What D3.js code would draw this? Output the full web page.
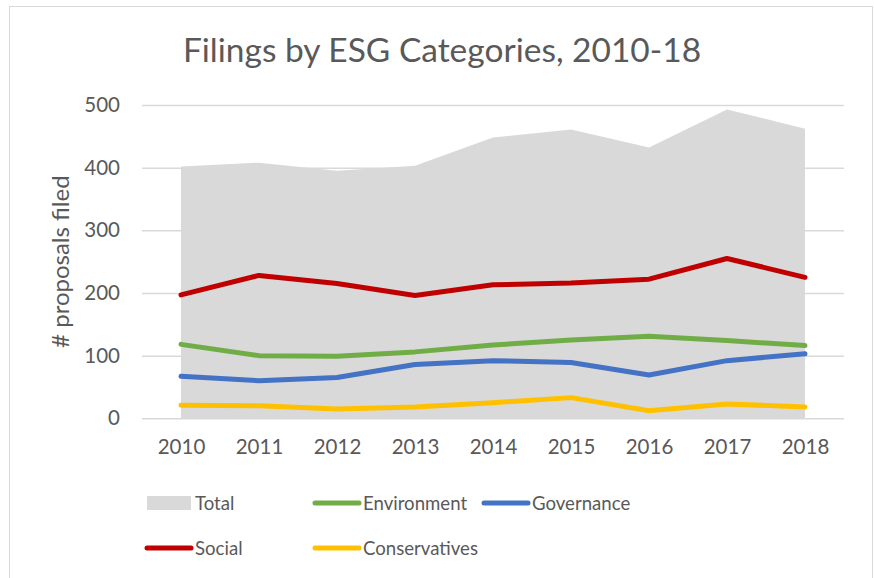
<!DOCTYPE html>
<html>
<head>
<meta charset="utf-8">
<script src="https://cdn.jsdelivr.net/npm/d3@7"></script>
<style>
  html, body { margin: 0; padding: 0; background: #fff; }
  svg { display: block; }
  text { font-family: Lato, "Open Sans", sans-serif; fill: #595959; }
</style>
</head>
<body>
<svg id="chart" width="874" height="578"></svg>
<script>
// Shareholder proposal filings by ESG category
const years = ["2010", "2011", "2012", "2013", "2014", "2015", "2016", "2017", "2018"];
const total = [402, 408, 395, 403, 448, 461, 432, 493, 462];
const social = [197, 228, 215, 196, 213, 216, 222, 255, 225];
const environment = [118, 100, 99, 106, 117, 125, 131, 124, 116];
const governance = [67, 60, 65, 86, 92, 89, 69, 92, 103];
const conservatives = [21, 20, 15, 18, 25, 33, 12, 23, 18];
const yTicks = [0, 100, 200, 300, 400, 500];

const lineSeries = [
  { name: "Social", values: social, color: "#c00000" },
  { name: "Environment", values: environment, color: "#70ad47" },
  { name: "Governance", values: governance, color: "#4472c4" },
  { name: "Conservatives", values: conservatives, color: "#ffc000" }
];

const svg = d3.select("#chart");

// outer chart frame
svg.append("rect")
  .attr("x", 9.5).attr("y", 6.5)
  .attr("width", 863).attr("height", 580)
  .attr("fill", "#fff")
  .attr("stroke", "#d9d9d9").attr("stroke-width", 1);

const plot = { left: 142, right: 844, top: 105, bottom: 418.3 };

const x = d3.scalePoint().domain(years).range([plot.left, plot.right]).padding(0.5);
const y = d3.scaleLinear().domain([0, 500]).range([plot.bottom, plot.top]);

// title
svg.append("text")
  .attr("x", 442).attr("y", 62)
  .attr("text-anchor", "middle")
  .style("font-size", "33.5px")
  .text("Filings by ESG Categories, 2010-18");

// horizontal gridlines
const yAxis = d3.axisLeft(y).tickValues(yTicks).tickSize(-(plot.right - plot.left)).tickPadding(22);
const gy = svg.append("g").attr("transform", `translate(${plot.left},0)`).call(yAxis);
gy.select(".domain").remove();
gy.selectAll(".tick line").attr("stroke", "#d9d9d9").attr("stroke-width", 1.5);
gy.selectAll(".tick text")
  .attr("fill", "#595959")
  .style("font-size", "20.5px")
  .style("font-family", "Lato, 'Open Sans', sans-serif");

// total area behind the lines
const area = d3.area()
  .x((d, i) => x(years[i]))
  .y0(y(0))
  .y1(d => y(d));
svg.append("path")
  .datum(total)
  .attr("d", area)
  .attr("fill", "#d9d9d9");

// category lines
const line = d3.line()
  .x((d, i) => x(years[i]))
  .y(d => y(d));
svg.selectAll("path.series")
  .data(lineSeries)
  .join("path")
  .attr("class", "series")
  .attr("d", d => line(d.values))
  .attr("fill", "none")
  .attr("stroke", d => d.color)
  .attr("stroke-width", 5)
  .attr("stroke-linecap", "round")
  .attr("stroke-linejoin", "round");

// x axis labels
const xAxis = d3.axisBottom(x).tickSize(0).tickPadding(21);
const gx = svg.append("g").attr("transform", `translate(0,${plot.bottom})`).call(xAxis);
gx.select(".domain").remove();
gx.selectAll(".tick text")
  .attr("fill", "#595959")
  .style("font-size", "20.5px")
  .style("font-family", "Lato, 'Open Sans', sans-serif");

// y axis title
svg.append("text")
  .attr("transform", `translate(69,${(plot.top + plot.bottom) / 2}) rotate(-90)`)
  .attr("text-anchor", "middle")
  .style("font-size", "24px")
  .text("# proposals filed");

// legend
const legendItems = [
  { name: "Total", type: "area", color: "#d9d9d9", x: 147, y: 503 },
  { name: "Environment", type: "line", color: "#70ad47", x: 315, y: 503 },
  { name: "Governance", type: "line", color: "#4472c4", x: 484, y: 503 },
  { name: "Social", type: "line", color: "#c00000", x: 147, y: 548 },
  { name: "Conservatives", type: "line", color: "#ffc000", x: 315, y: 548 }
];
const lg = svg.append("g").selectAll("g").data(legendItems).join("g")
  .attr("transform", d => `translate(${d.x},${d.y})`);
lg.filter(d => d.type === "area").append("rect")
  .attr("x", 0).attr("y", -7).attr("width", 44).attr("height", 14)
  .attr("fill", d => d.color);
lg.filter(d => d.type === "line").append("line")
  .attr("x1", 0).attr("x2", 44).attr("y1", 0).attr("y2", 0)
  .attr("stroke", d => d.color).attr("stroke-width", 5)
  .attr("stroke-linecap", "round");
lg.append("text")
  .attr("x", 48).attr("y", 0).attr("dy", "0.36em")
  .style("font-size", "18.6px")
  .text(d => d.name);
</script>
</body>
</html>
